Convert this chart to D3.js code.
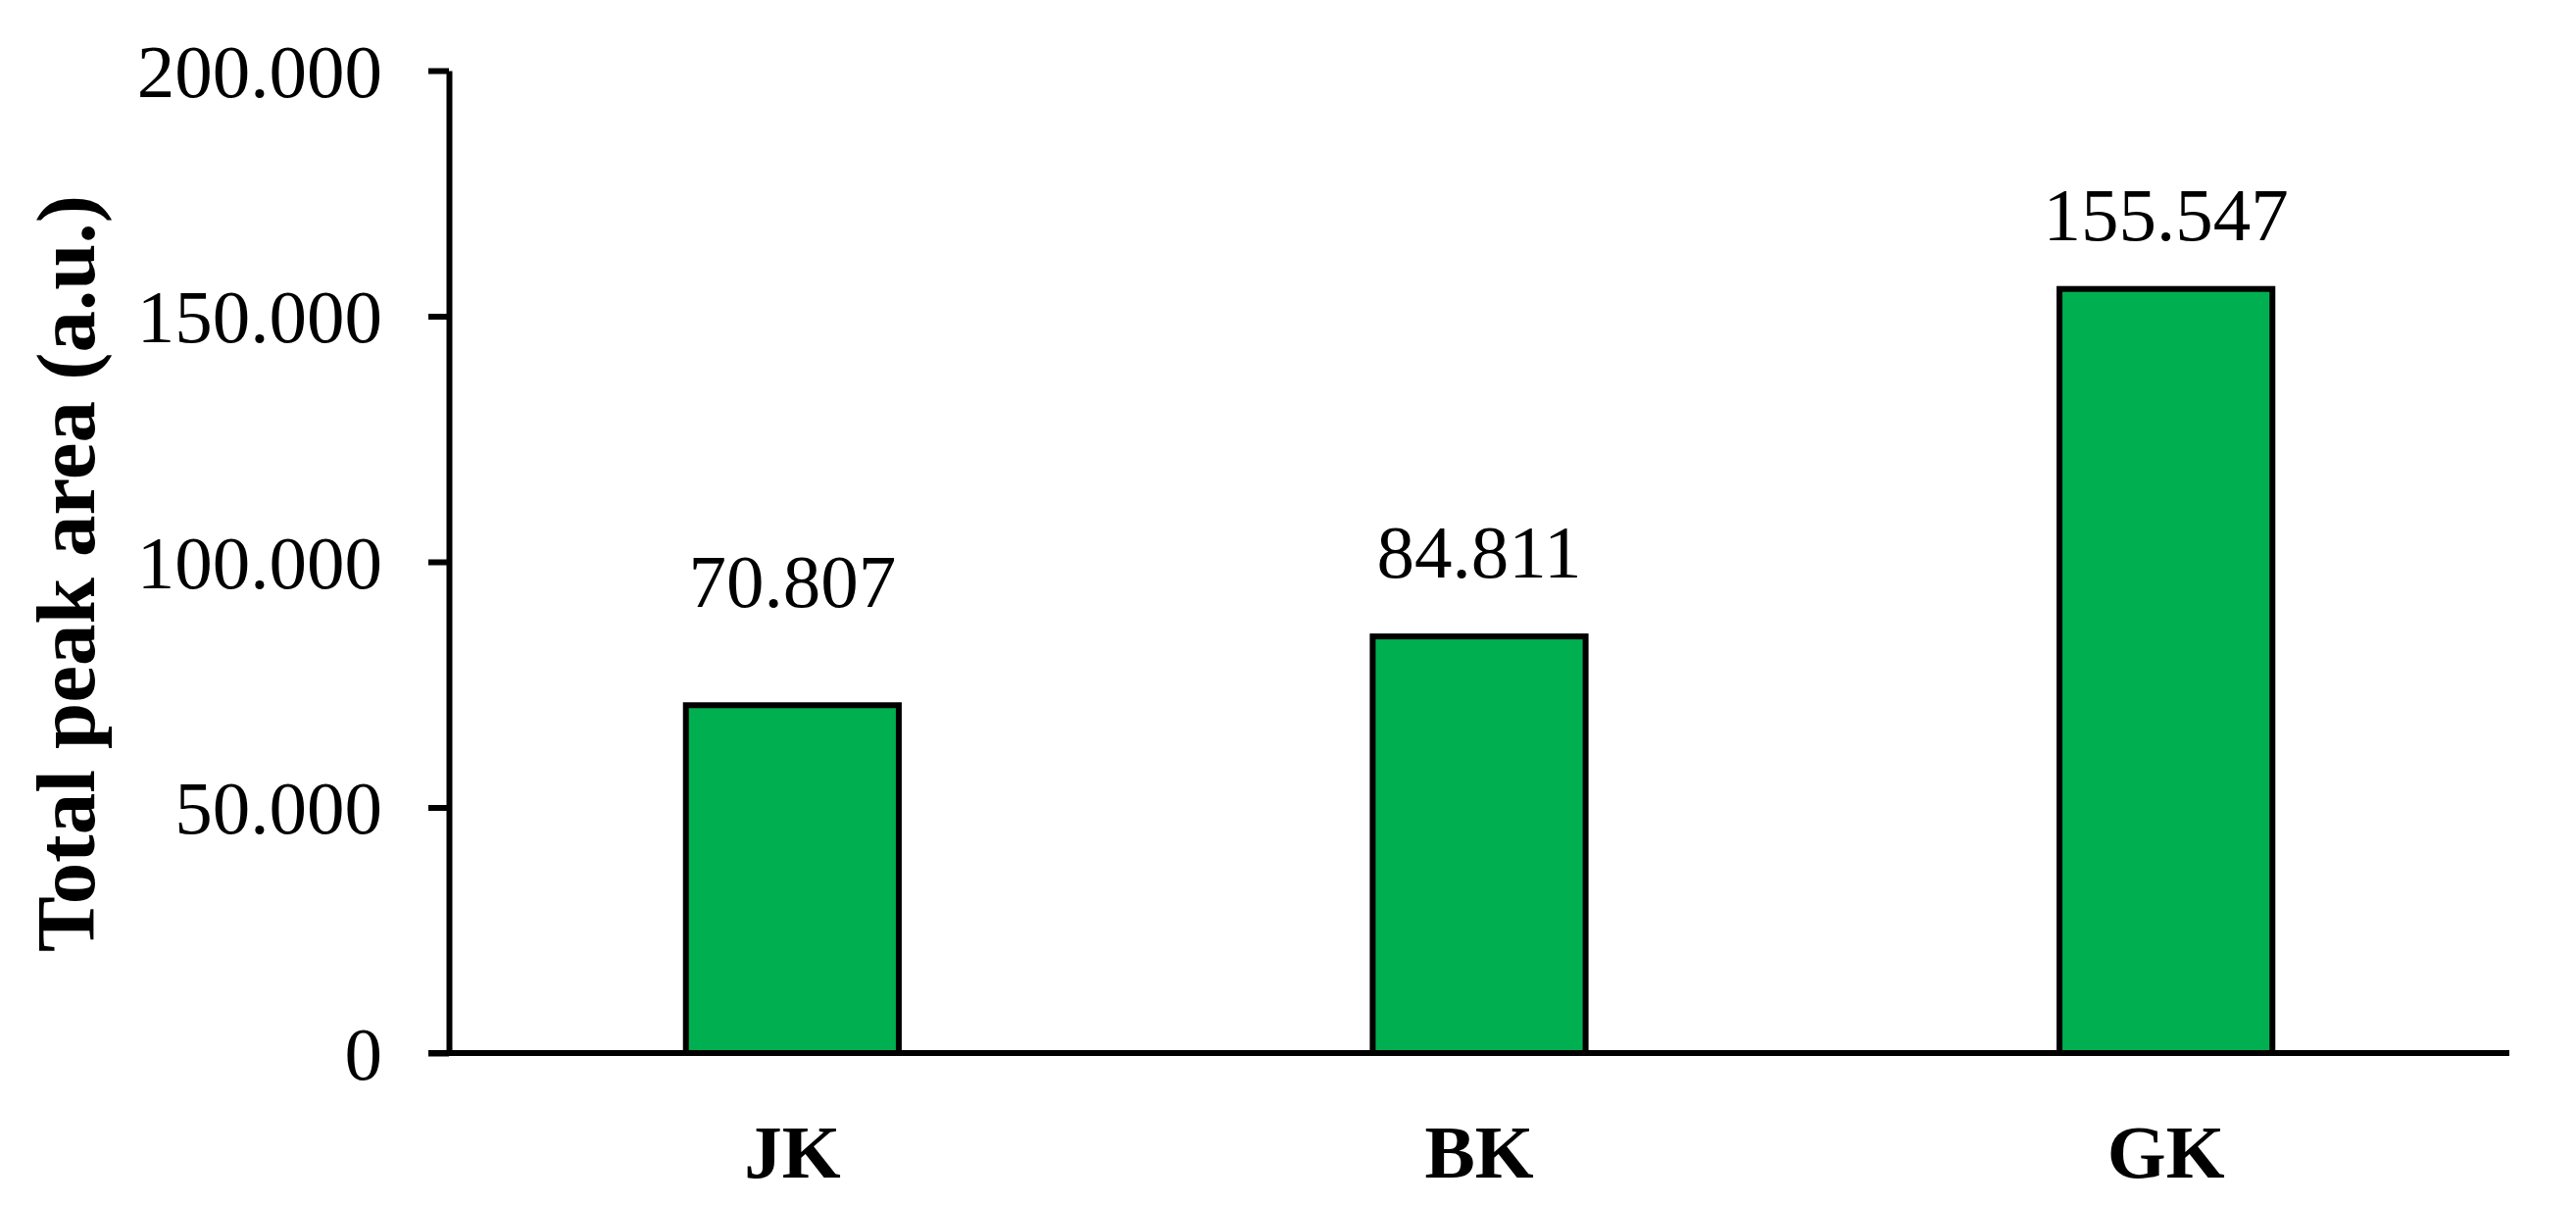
<!DOCTYPE html>
<html>
<head>
<meta charset="utf-8">
<script src="https://cdn.jsdelivr.net/npm/d3@7"></script>
<style>
	body{margin:0;background:#fff;}
	svg text{font-family:"Liberation Serif","Times New Roman",serif;fill:#000;}
</style>
</head>
<body>
<div id="chart"></div>
<script>
// data
var categories=["JK","BK","GK"]
var values=[70807,84811,155547]
var valueLabels=["70.807","84.811","155.547"]
var yTicks=[0,50000,100000,150000,200000]
var yTickLabels=["0","50.000","100.000","150.000","200.000"]
var yTitle="Total peak area (a.u.)"

var W=2628, H=1230
var margin={top:72, right:68, bottom:156, left:458}

var svg=d3.select("#chart").append("svg")
	.attr("width",W)
	.attr("height",H)

var x=d3.scaleBand()
	.domain(categories)
	.range([margin.left, W-margin.right])
	.paddingInner(0.69)
	.paddingOuter(0.345)

var y=d3.scaleLinear()
	.domain([0,200000])
	.range([H-margin.bottom, margin.top])

// bars
svg.selectAll(".bar")
	.data(values)
	.enter()
	.append("rect")
	.attr("class","bar")
	.attr("x",(d,i)=>x(categories[i]))
	.attr("width",x.bandwidth())
	.attr("y",d=>y(d))
	.attr("height",d=>y(0)-y(d))
	.attr("fill","#00b050")
	.attr("stroke","#000")
	.attr("stroke-width",6)

// y axis
var yAxis=d3.axisLeft(y)
	.tickValues(yTicks)
	.tickFormat((d,i)=>yTickLabels[i])
	.tickSizeInner(21)
	.tickSizeOuter(0)
	.tickPadding(47)

var gy=svg.append("g")
	.attr("transform","translate("+margin.left+",0)")
	.call(yAxis)
gy.select(".domain").attr("stroke","#000").attr("stroke-width",6)
gy.selectAll(".tick line").attr("stroke","#000").attr("stroke-width",6)
gy.selectAll(".tick text")
	.attr("font-family","Liberation Serif")
	.attr("font-size",77)
	.attr("fill","#000")
	.attr("dy","0.34em")

// x axis
var xAxis=d3.axisBottom(x).tickSize(0).tickPadding(72)
var gx=svg.append("g")
	.attr("transform","translate(0,"+y(0)+")")
	.call(xAxis)
gx.select(".domain")
	.attr("d","M"+(margin.left-21)+",0H"+(W-margin.right))
	.attr("stroke","#000").attr("stroke-width",6)
gx.selectAll(".tick text")
	.attr("font-family","Liberation Serif")
	.attr("font-size",77)
	.attr("font-weight","bold")
	.attr("fill","#000")

// value labels (JK one sits a bit higher in the original)
var labelGap=[100,60,50]
svg.selectAll(".vlabel")
	.data(values)
	.enter()
	.append("text")
	.attr("class","vlabel")
	.attr("x",(d,i)=>x(categories[i])+x.bandwidth()/2)
	.attr("y",(d,i)=>y(d)-labelGap[i])
	.attr("text-anchor","middle")
	.attr("font-size",77)
	.text((d,i)=>valueLabels[i])

// y title
svg.append("text")
	.attr("transform","translate(96,585) rotate(-90)")
	.attr("text-anchor","middle")
	.attr("font-size",85)
	.attr("font-weight","bold")
	.text(yTitle)
</script>
</body>
</html>
